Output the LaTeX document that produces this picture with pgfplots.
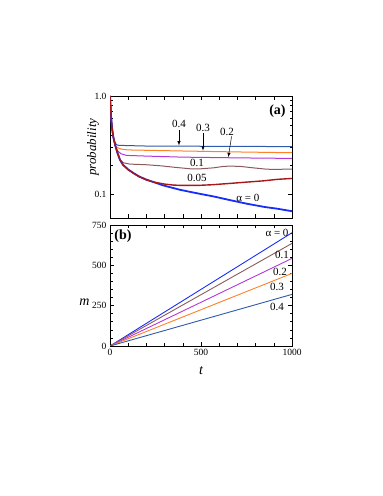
\documentclass[border=0pt]{standalone}
\usepackage{fontspec}
\setmainfont{Liberation Serif}
\usepackage{pgfplots}
\pgfplotsset{compat=1.18}
\definecolor{cA}{RGB}{25,45,250}
\definecolor{cB}{RGB}{165,25,25}
\definecolor{cC}{RGB}{140,90,90}
\definecolor{cD}{RGB}{180,55,215}
\definecolor{cE}{RGB}{255,128,40}
\definecolor{cF}{RGB}{45,90,170}
\begin{document}
\begin{tikzpicture}
\path[use as bounding box] (0pt,0pt) rectangle (383pt,496pt);
\pgfplotsset{
  every axis/.append style={
    scale only axis, width=182pt,
    axis line style={line width=0.9pt},
    tick style={line width=0.6pt, black},
    major tick length=4pt, minor tick length=2.5pt,
    tick align=inside,
    xmin=0, xmax=1000,
    tick label style={font=\fontsize{9.5}{10}\selectfont},
    /pgf/number format/assume math mode=true,
    /pgf/number format/1000 sep={},
  }
}
% ---------- top panel ----------
\begin{axis}[
  at={(110pt,278pt)}, anchor=south west, height=122pt,
  ymode=log, ymin=0.058, ymax=1.0,
  ytick={0.1,1}, yticklabels={0.1,1.0},
  xtick={0,100,...,1000}, xticklabels={},
  ylabel={\fontsize{13}{14}\selectfont\itshape probability},
  ylabel style={at={(rel axis cs:-0.093,0.58)}, anchor=center},
  clip=true,
]
\addplot[cF, line width=1pt] coordinates {(0,1.0)(3,0.8)(6,0.62)(10,0.5)(15,0.42)(20,0.37)(30,0.33)(40,0.318)(50,0.316)(200,0.311)(600,0.309)(1000,0.307)};
\addplot[cE, line width=1pt] coordinates {(0,1.0)(3,0.8)(6,0.62)(10,0.5)(15,0.42)(20,0.37)(30,0.31)(40,0.30)(60,0.29)(100,0.284)(400,0.277)(700,0.271)(1000,0.266)};
\addplot[cD, line width=1pt] coordinates {(0,1.0)(3,0.8)(6,0.62)(10,0.5)(15,0.42)(20,0.37)(30,0.31)(40,0.28)(60,0.26)(90,0.25)(200,0.246)(400,0.24)(700,0.236)(1000,0.233)};
\addplot[cC, line width=1pt] coordinates {(0,1.0)(3,0.8)(6,0.62)(10,0.5)(15,0.42)(20,0.37)(30,0.31)(40,0.26)(55,0.225)(75,0.21)(110,0.204)(200,0.201)(280,0.196)(348,0.19)(440,0.183)(500,0.183)(568,0.187)(620,0.193)(660,0.195)(720,0.193)(787,0.187)(850,0.182)(897,0.18)(1000,0.182)};
\addplot[cA, line width=1.8pt] coordinates {(0,1.0)(3,0.8)(6,0.62)(10,0.5)(15,0.42)(20,0.37)(30,0.31)(40,0.27)(55,0.225)(72,0.20)(100,0.18)(128,0.166)(160,0.153)(200,0.142)(250,0.132)(293,0.124)(385,0.112)(470,0.104)(568,0.096)(660,0.088)(751,0.081)(850,0.075)(920,0.072)(1000,0.068)};
\addplot[cB, line width=1.4pt] coordinates {(0,1.0)(3,0.8)(6,0.62)(10,0.5)(15,0.42)(20,0.37)(30,0.31)(40,0.27)(55,0.225)(72,0.20)(100,0.179)(128,0.165)(160,0.152)(200,0.141)(250,0.133)(300,0.128)(350,0.125)(400,0.124)(476,0.124)(560,0.126)(659,0.130)(750,0.134)(842,0.138)(920,0.143)(1000,0.146)};
\node[font=\fontsize{14}{15}\selectfont\bfseries] at (axis cs:920,0.70) {(a)};
\node[font=\fontsize{11}{12}\selectfont] at (axis cs:379,0.52) {0.4};
\draw[-{latex}, line width=0.5pt] (axis cs:379,0.45) -- (axis cs:379,0.315);
\node[font=\fontsize{11}{12}\selectfont] at (axis cs:511,0.47) {0.3};
\draw[-{latex}, line width=0.5pt] (axis cs:511,0.42) -- (axis cs:511,0.279);
\node[font=\fontsize{11}{12}\selectfont] at (axis cs:643,0.43) {0.2};
\draw[-{latex}, line width=0.5pt] (axis cs:668,0.39) -- (axis cs:650,0.24);
\node[font=\fontsize{11}{12}\selectfont] at (axis cs:478,0.21) {0.1};
\node[font=\fontsize{11}{12}\selectfont] at (axis cs:478,0.149) {0.05};
\node[font=\fontsize{11}{12}\selectfont] at (axis cs:758,0.093) {α = 0};
\end{axis}
% ---------- bottom panel ----------
\begin{axis}[
  at={(110pt,150pt)}, anchor=south west, height=121pt,
  ymin=0, ymax=750,
  ytick={0,250,500,750}, minor ytick={50,100,...,700},
  xtick={0,500,1000}, minor xtick={100,200,...,900},
  xlabel={\fontsize{14}{15}\selectfont\itshape t},
  ylabel={\fontsize{14}{15}\selectfont\itshape m},
  ylabel style={at={(rel axis cs:-0.14,0.36)}, rotate=-90, anchor=center},
  xlabel style={yshift=-4pt},
  scaled y ticks=false,
]
\addplot[cA, line width=0.9pt] coordinates {(0,0)(500,351)(1000,702)};
\addplot[cC, line width=0.9pt] coordinates {(0,0)(500,318)(1000,636)};
\addplot[cD, line width=0.9pt] coordinates {(0,0)(500,271)(1000,543)};
\addplot[cE, line width=0.9pt] coordinates {(0,0)(500,225)(1000,450)};
\addplot[cF, line width=0.9pt] coordinates {(0,0)(500,160)(1000,320)};
\node[font=\fontsize{14}{15}\selectfont\bfseries] at (axis cs:71,682) {(b)};
\node[font=\fontsize{11}{12}\selectfont, anchor=east] at (axis cs:1000,700) {α = 0};
\node[font=\fontsize{11}{12}\selectfont] at (axis cs:945,564) {0.1};
\node[font=\fontsize{11}{12}\selectfont] at (axis cs:934,459) {0.2};
\node[font=\fontsize{11}{12}\selectfont] at (axis cs:918,366) {0.3};
\node[font=\fontsize{11}{12}\selectfont] at (axis cs:918,242) {0.4};
\end{axis}
\end{tikzpicture}
\end{document}
